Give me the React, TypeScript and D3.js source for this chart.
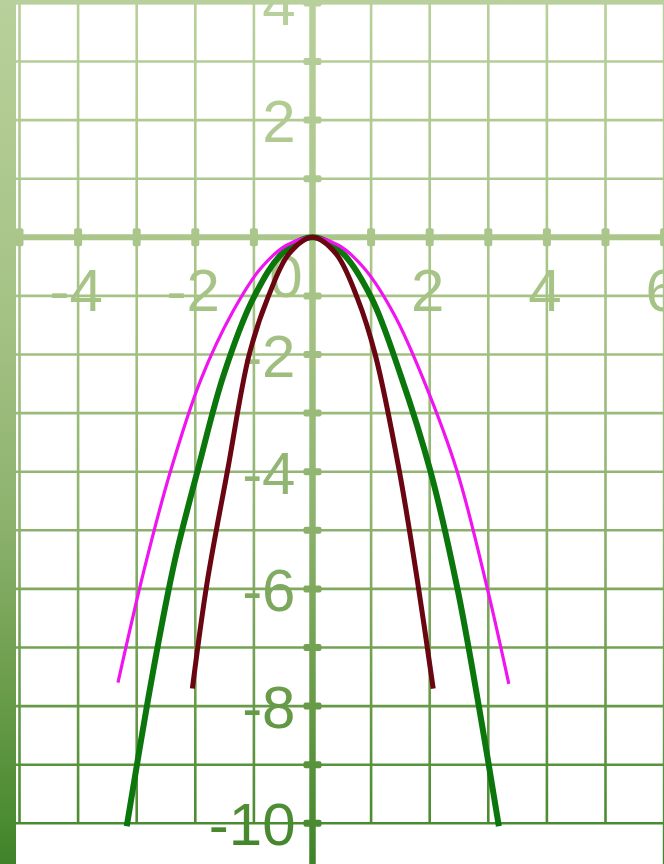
import React from "react";
import * as d3 from "d3";

// Plot window (in data units) and the graph-paper steps
const xDomain = [-5, 6];
const yDomain = [4, -10];
const xGrid = d3.range(-5, 7, 1);
const yGrid = d3.range(4, -11, -1);

// Tick labels
const xTickLabels = [-4, -2, 2, 4, 6];
const yTickLabels = [4, 2, -2, -4, -6, -8, -10];
const originLabel = "0";

// Three downward parabolas, sampled as (x, y) readings
const magentaX = [-3.32, -2.88, -2.42, -1.91, -1.35, -0.9, -0.45, 0, 0.45, 0.9, 1.4, 1.89, 2.47, 2.98, 3.35];
const magentaY = [-7.6, -5.7, -3.98, -2.44, -1.25, -0.55, -0.14, 0, -0.14, -0.55, -1.33, -2.42, -4.0, -5.98, -7.62];

const greenX = [-3.17, -2.81, -2.47, -2.3, -1.96, -1.52, -1.0, -0.5, 0, 0.5, 1.0, 1.5, 2.01, 2.47, 2.83, 3.18];
const greenY = [-10.05, -7.91, -6.09, -5.3, -3.98, -2.36, -1.02, -0.26, 0, -0.26, -1.02, -2.34, -3.98, -5.98, -7.95, -10.05];

const redX = [-2.05, -1.8, -1.45, -1.08, -0.75, -0.4, 0, 0.4, 0.77, 1.07, 1.48, 1.79, 2.06];
const redY = [-7.7, -5.9, -3.98, -2.0, -1.0, -0.28, 0, -0.28, -1.05, -2.0, -3.98, -5.86, -7.7];

const W = 664;
const H = 864;

const x = d3.scaleLinear().domain(xDomain).range([19.5, 664.1]);
const y = d3.scaleLinear().domain(yDomain).range([2.9, 823.3]);

const toPts = (xs: number[], ys: number[]) => xs.map((v, i) => [v, ys[i]] as [number, number]);

const lineGen = d3
  .line<[number, number]>()
  .x((d) => x(d[0]))
  .y((d) => y(d[1]))
  .curve(d3.curveCatmullRom.alpha(0.5));

const curves = [
  { pts: toPts(greenX, greenY), color: "#0b760b", width: 6 },
  { pts: toPts(magentaX, magentaY), color: "#f014f0", width: 3.2 },
  { pts: toPts(redX, redY), color: "#6a0612", width: 5 },
];

const FONT = "'Liberation Sans', Arial, sans-serif";
const FS = 60;

export default function App() {
  const x0 = x(0);
  const y0 = y(0);
  const yBottom = y(-10);
  const paint = "url(#paper)";
  return (
    <svg
      width={W}
      height={H}
      style={{ position: "absolute", left: 0, top: 0, background: "#ffffff" }}
    >
      <defs>
        <linearGradient id="paper" gradientUnits="userSpaceOnUse" x1={0} y1={0} x2={0} y2={H}>
          <stop offset="0" stopColor="#b8d09b" />
          <stop offset="0.35" stopColor="#a6c386" />
          <stop offset="0.6" stopColor="#8db26e" />
          <stop offset="0.8" stopColor="#6a9c4a" />
          <stop offset="0.95" stopColor="#4b8b31" />
          <stop offset="1" stopColor="#3f8229" />
        </linearGradient>
      </defs>

      {/* left edge band */}
      <rect x={0} y={0} width={16} height={H} fill={paint} />
      {/* top band */}
      <rect x={16} y={0} width={W - 16} height={4.5} fill={paint} />

      {/* graph paper grid */}
      {xGrid.map((v) => (
        <line
          key={"gx" + v}
          x1={x(v)}
          x2={x(v)}
          y1={0}
          y2={v === 6 ? H : yBottom}
          stroke={paint}
          strokeWidth={2.6}
        />
      ))}
      {yGrid.map((v) => (
        <line
          key={"gy" + v}
          x1={16}
          x2={W}
          y1={y(v)}
          y2={y(v)}
          stroke={paint}
          strokeWidth={2.6}
        />
      ))}

      {/* axes */}
      <line x1={16} x2={W} y1={y0} y2={y0} stroke={paint} strokeWidth={6} />
      <line x1={x0} x2={x0} y1={0} y2={H} stroke={paint} strokeWidth={6.5} />

      {/* axis tick marks */}
      {xGrid
        .filter((v) => v !== 0)
        .map((v) => (
          <rect key={"tx" + v} x={x(v) - 4} y={y0 - 9} width={8} height={18} rx={2} fill={paint} />
        ))}
      {yGrid
        .filter((v) => v !== 0)
        .map((v) => (
          <rect key={"ty" + v} x={x0 - 9} y={y(v) - 3.5} width={18} height={7} rx={2} fill={paint} />
        ))}

      {/* tick labels */}
      <g fontFamily={FONT} fontSize={FS} fill={paint}>
        {xTickLabels.map((v) => (
          <text key={"lx" + v} x={x(v) - 2} y={y0 + 74} textAnchor="middle">
            {v < 0 ? "-" + Math.abs(v) : String(v)}
          </text>
        ))}
        <text x={x0 - 10} y={y0 + 60} textAnchor="end">
          {originLabel}
        </text>
        {yTickLabels.map((v) => (
          <text key={"ly" + v} x={x0 - 17} y={y(v) + 22} textAnchor="end">
            {v < 0 ? "-" + Math.abs(v) : String(v)}
          </text>
        ))}
      </g>

      {/* parabolas */}
      {curves.map((c, i) => (
        <path
          key={"c" + i}
          d={lineGen(c.pts) || ""}
          fill="none"
          stroke={c.color}
          strokeWidth={c.width}
          strokeLinejoin="round"
        />
      ))}
    </svg>
  );
}
